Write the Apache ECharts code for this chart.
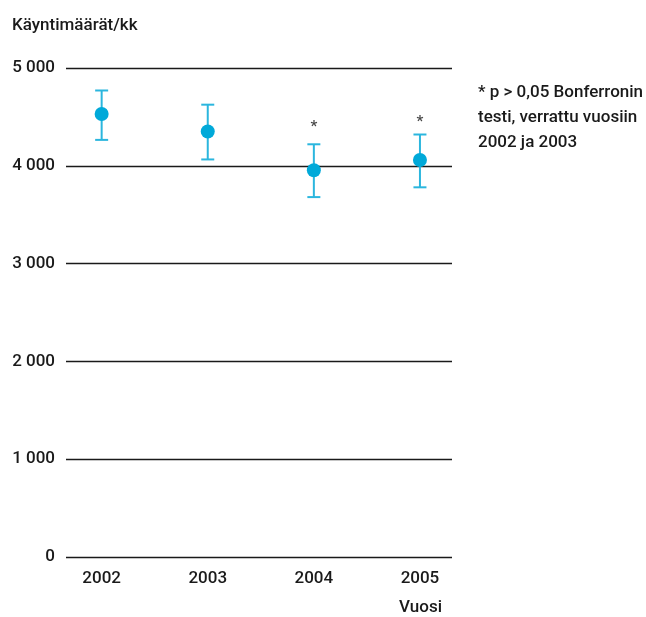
<!DOCTYPE html>
<html>
<head>
<meta charset="utf-8">
<script src="https://cdn.jsdelivr.net/npm/echarts@6/dist/echarts.min.js"></script>
<style>html,body{margin:0;padding:0;background:#fff}#c{width:646px;height:617px}</style>
</head>
<body>
<div id="c"></div>
<script>
const years = [2002, 2003, 2004, 2005];
const means = [4530, 4350, 3955, 4060];
const upper = [4770, 4625, 4220, 4320];
const lower = [4265, 4065, 3680, 3780];
const sigYears = [2004, 2005];
const sigPos = [4440, 4490];
const yTicks = [0, 1000, 2000, 3000, 4000, 5000];
const FONT = 'Roboto';
const FW = 500;

const chart = echarts.init(document.getElementById('c'), null, {renderer: 'canvas'});
const barColor = '#2bb6de';
const dotColor = '#00a9d9';

chart.setOption({
  animation: false,
  backgroundColor: '#fff',
  title: {
    text: 'Käyntimäärät/kk',
    left: 7, top: 12,
    textStyle: {fontFamily: FONT, fontSize: 17, fontWeight: FW, color: '#1a1a1a'}
  },
  grid: {left: 66, right: 194, top: 68, bottom: 60},
  xAxis: {
    type: 'value',
    min: 2001.664, max: 2005.302,
    axisLine: {show: false},
    axisTick: {show: false},
    splitLine: {show: false},
    axisLabel: {
      customValues: years,
      formatter: v => String(v),
      margin: 13,
      fontFamily: FONT, fontSize: 17, fontWeight: FW, color: '#1a1a1a'
    },
    name: 'Vuosi',
    nameLocation: 'end',
    nameGap: 0,
    nameTextStyle: {fontFamily: FONT, fontSize: 17, fontWeight: FW, color: '#1a1a1a', align: 'right', verticalAlign: 'top', padding: [42, 10, 0, 0]}
  },
  yAxis: {
    type: 'value',
    min: 0, max: 5000, interval: 1000,
    axisLine: {show: false},
    axisTick: {show: false},
    splitLine: {lineStyle: {color: '#1a1a1a', width: 1.3}},
    axisLabel: {
      margin: 11,
      fontFamily: FONT, fontSize: 17, fontWeight: FW, color: '#1a1a1a',
      formatter: v => String(v).replace(/\B(?=(\d{3})+(?!\d))/g, ' ')
    }
  },
  graphic: [
    {type: 'text', left: 478, top: 84, style: {text: '* p > 0,05 Bonferronin', font: '500 17px Roboto', fill: '#1a1a1a'}},
    {type: 'text', left: 478, top: 109, style: {text: 'testi, verrattu vuosiin', font: '500 17px Roboto', fill: '#1a1a1a'}},
    {type: 'text', left: 478, top: 134, style: {text: '2002 ja 2003', font: '500 17px Roboto', fill: '#1a1a1a'}}
  ],
  series: [
    {
      type: 'custom',
      data: years.map((y, i) => [y, lower[i], upper[i]]),
      renderItem: function (params, api) {
        const x = api.coord([api.value(0), api.value(1)])[0];
        const lo = api.coord([api.value(0), api.value(1)])[1];
        const hi = api.coord([api.value(0), api.value(2)])[1];
        const hw = 6.5;
        const st = {stroke: barColor, lineWidth: 2, fill: null};
        return {
          type: 'group',
          children: [
            {type: 'line', shape: {x1: x, y1: lo, x2: x, y2: hi}, style: st},
            {type: 'line', shape: {x1: x - hw, y1: hi, x2: x + hw, y2: hi}, style: st},
            {type: 'line', shape: {x1: x - hw, y1: lo, x2: x + hw, y2: lo}, style: st}
          ]
        };
      },
      z: 2
    },
    {
      type: 'scatter',
      data: years.map((y, i) => [y, means[i]]),
      symbol: 'circle',
      symbolSize: 14,
      itemStyle: {color: dotColor, opacity: 1},
      z: 3
    },
    {
      type: 'scatter',
      data: sigYears.map((y, i) => [y, sigPos[i]]),
      symbol: 'circle',
      symbolSize: 1,
      itemStyle: {color: 'rgba(0,0,0,0)'},
      label: {show: true, position: 'inside', offset: [0, 4], formatter: '*', fontFamily: FONT, fontSize: 15, fontWeight: 'bold', color: '#1a1a1a'},
      z: 4
    }
  ]
});
</script>
</body>
</html>
